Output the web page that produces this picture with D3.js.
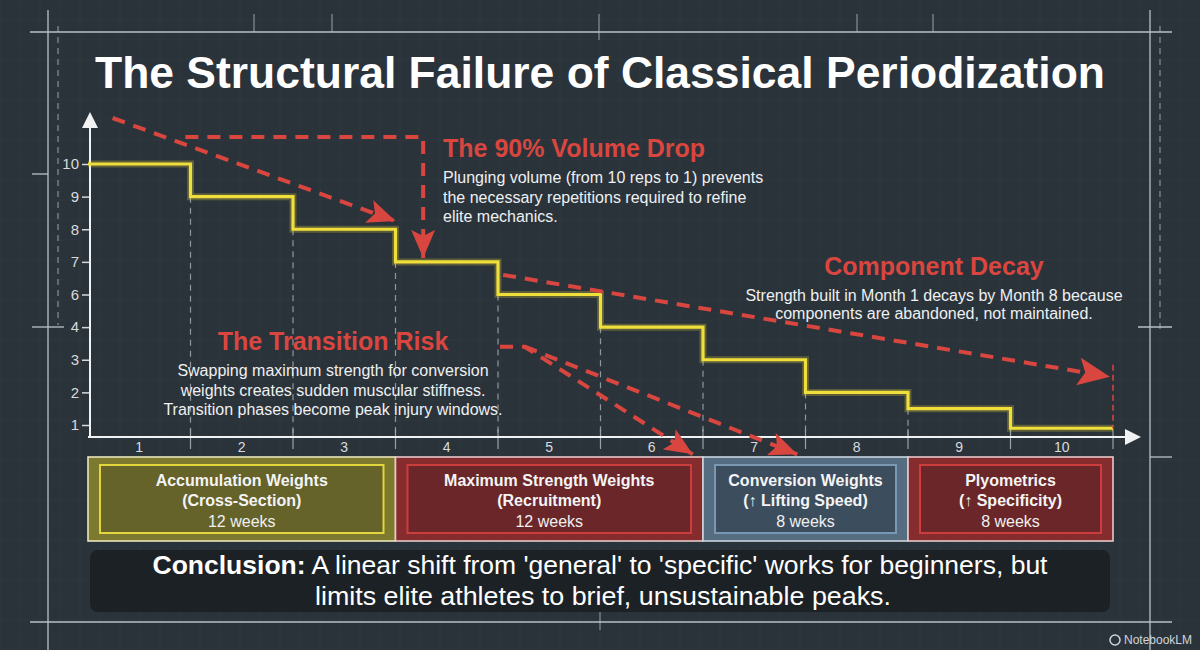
<!DOCTYPE html>
<html><head><meta charset="utf-8">
<script src="https://cdn.jsdelivr.net/npm/d3@7"></script>
<style>
html,body{margin:0;padding:0;background:#2b333a;}
svg{display:block;font-family:"Liberation Sans",Arial,Helvetica,sans-serif;}
</style>
</head><body><div id="chart"></div>
<script>
// ---------- data ----------
const months = [1,2,3,4,5,6,7,8,9,10];
const volume = [10,9,8,7,6,4,3,2,1.5,0.9];
const yTickLabels = [10,9,8,7,6,4,3,2,1];
const phaseNames = ["Accumulation Weights","Maximum Strength Weights","Conversion Weights","Plyometrics"];
const phaseSubs = ["(Cross-Section)","(Recruitment)","(\u2191 Lifting Speed)","(\u2191 Specificity)"];
const phaseWeeks = [12,12,8,8];
const phaseStart = [1,4,7,9];
const phaseEnd = [3,6,8,10];
const phaseBand = ["#7d7a2f","#862c2e","#566c80","#862c2e"];
const phaseFill = ["#65622a","#6a2629","#3c4d5e","#6a2629"];
const phaseOuter = ["#e9e6b8","#e6c9c9","#c9d5df","#e6c9c9"];
const phaseInner = ["#e3d53c","#cc3d3d","#7a98b3","#cc3d3d"];

const W = 1200, H = 650;
const bg = "#2b333a", red = "#d9463f", yellow = "#f0de3a";

const svg = d3.select("#chart").append("svg").attr("width", W).attr("height", H);
svg.append("rect").attr("width", W).attr("height", H).attr("fill", bg);

// faint blueprint texture grid
const gridG = svg.append("g").attr("stroke", "#ffffff").attr("stroke-opacity", 0.022);
d3.range(0, W, 20).forEach(v => gridG.append("line").attr("x1", v).attr("x2", v).attr("y1", 0).attr("y2", H));
d3.range(0, H, 20).forEach(v => gridG.append("line").attr("y1", v).attr("y2", v).attr("x1", 0).attr("x2", W));

// ---------- frame ----------
const frame = svg.append("g").attr("stroke", "#b9c1c7").attr("stroke-width", 1.3).attr("fill", "none");
frame.append("line").attr("x1", 30).attr("x2", 1172).attr("y1", 32).attr("y2", 32);
frame.append("line").attr("x1", 30).attr("x2", 1172).attr("y1", 622).attr("y2", 622);
frame.append("line").attr("x1", 48).attr("x2", 48).attr("y1", 10).attr("y2", 650);
frame.append("line").attr("x1", 1150).attr("x2", 1150).attr("y1", 10).attr("y2", 650);
frame.append("line").attr("x1", 58).attr("x2", 58).attr("y1", 26).attr("y2", 325).attr("stroke-dasharray", "6,5").attr("stroke-opacity", 0.6);
frame.append("line").attr("x1", 1160).attr("x2", 1160).attr("y1", 26).attr("y2", 330).attr("stroke-dasharray", "6,5").attr("stroke-opacity", 0.6);
[[32,48,174],[32,64,327]].forEach(d => frame.append("line").attr("x1", d[0]).attr("x2", d[1]).attr("y1", d[2]).attr("y2", d[2]));
[[1150,1172,457],[1138,1172,327]].forEach(d => frame.append("line").attr("x1", d[0]).attr("x2", d[1]).attr("y1", d[2]).attr("y2", d[2]));
[[254,14,32],[332,14,32],[599,14,40],[857,14,32],[933,14,32]].forEach(d =>
  frame.append("line").attr("x1", d[0]).attr("x2", d[0]).attr("y1", d[1]).attr("y2", d[2]).attr("stroke-opacity", 0.6));
frame.append("line").attr("x1", 600).attr("x2", 600).attr("y1", 612).attr("y2", 630).attr("stroke-opacity", 0.6);

// ---------- title ----------
svg.append("text").attr("x", 600).attr("y", 88).attr("text-anchor", "middle")
  .attr("font-size", 45).attr("font-weight", "bold").attr("fill", "#ffffff")
  .attr("textLength", 1010).attr("lengthAdjust", "spacingAndGlyphs")
  .text("The Structural Failure of Classical Periodization");

// ---------- scales ----------
const x = d3.scaleBand().domain(months).range([88, 1113]).padding(0);
const xl = d3.scaleLinear().domain([1, 11]).range([88, 1113]);
const y = d3.scaleLinear().domain(yTickLabels)
  .range(yTickLabels.map((d, i) => 164 + i * (425 - 164) / (yTickLabels.length - 1)));
const axisY = 437, axisX = 90;

// ---------- markers ----------
const defs = svg.append("defs");
function marker(id, color, len, wid) {
  defs.append("marker").attr("id", id).attr("markerUnits", "userSpaceOnUse")
    .attr("markerWidth", len).attr("markerHeight", wid).attr("refX", len).attr("refY", wid / 2)
    .attr("orient", "auto").append("path")
    .attr("d", `M0,0 L${len},${wid/2} L0,${wid} L${len*0.22},${wid/2} Z`).attr("fill", color);
}
marker("arrRed", red, 28, 24);
marker("arrRedBig", red, 32, 28);

// ---------- dashed month guides ----------
const guides = svg.append("g");
months.slice(1).forEach((m, i) => {
  guides.append("line").attr("x1", xl(m)).attr("x2", xl(m))
    .attr("y1", y(volume[i + 1])).attr("y2", axisY)
    .attr("stroke", "#8f979e").attr("stroke-width", 1.2).attr("stroke-dasharray", "6,5");
});

// ---------- axes ----------
const yAxis = svg.append("g").attr("transform", `translate(${axisX},0)`)
  .call(d3.axisLeft(y).tickValues(yTickLabels).tickSize(8).tickPadding(3).tickFormat(d3.format("d")));
yAxis.select(".domain").remove();
yAxis.selectAll("line").attr("stroke", "#d5d9dc").attr("stroke-width", 1.5);
yAxis.selectAll("text").attr("fill", "#d8dbde").attr("font-size", 15).attr("font-family", "Liberation Sans, Arial, sans-serif");

const xAxis = svg.append("g").attr("transform", `translate(0,${axisY})`)
  .call(d3.axisBottom(x).tickSize(0).tickPadding(5));
xAxis.select(".domain").remove();
xAxis.selectAll("text").attr("fill", "#d8dbde").attr("font-size", 14).attr("font-family", "Liberation Sans, Arial, sans-serif");
// boundary ticks
months.slice(1).concat([11]).forEach(m => {
  svg.append("line").attr("x1", xl(m)).attr("x2", xl(m)).attr("y1", axisY - 8).attr("y2", axisY + 12)
    .attr("stroke", "#9aa2a8").attr("stroke-width", 1.2);
});

// axis lines with arrows
svg.append("line").attr("x1", axisX).attr("x2", axisX).attr("y1", axisY).attr("y2", 126)
  .attr("stroke", "#f0f2f3").attr("stroke-width", 2);
svg.append("path").attr("d", `M${axisX},112 L${axisX-8},128 L${axisX+8},128 Z`).attr("fill", "#f0f2f3");
svg.append("line").attr("x1", axisX - 2).attr("x2", 1126).attr("y1", axisY).attr("y2", axisY)
  .attr("stroke", "#f0f2f3").attr("stroke-width", 2);
svg.append("path").attr("d", `M1141,${axisY} L1125,${axisY-8} L1125,${axisY+8} Z`).attr("fill", "#f0f2f3");

// ---------- step line ----------
const stepPts = months.map((m, i) => [xl(m), y(volume[i])]).concat([[xl(11), y(volume[volume.length - 1])]]);
const stepLine = d3.line().curve(d3.curveStepAfter);
svg.append("path").attr("d", stepLine(stepPts)).attr("fill", "none")
  .attr("stroke", yellow).attr("stroke-opacity", 0.25).attr("stroke-width", 7);
svg.append("path").attr("d", stepLine(stepPts)).attr("fill", "none")
  .attr("stroke", yellow).attr("stroke-width", 3.2);

// ---------- annotation arrows (positioned through the scales) ----------
const dash = "13,9";
const ann = svg.append("g").attr("fill", "none").attr("stroke", red).attr("stroke-width", 4).attr("stroke-dasharray", dash);
const P = (m, v) => [xl(m), y(v)];
const lineGen = d3.line();
// 90% volume drop: diagonal
ann.append("path").attr("d", lineGen([P(1.24, 11.41), P(4.0, 8.25)])).attr("marker-end", "url(#arrRed)");
// 90% volume drop: elbow
ann.append("path").attr("d", lineGen([P(1.95, 10.83), P(4.27, 10.83), P(4.27, 7.12)])).attr("marker-end", "url(#arrRed)");
// component decay
ann.append("path").attr("d", lineGen([P(5.05, 6.6), P(10.97, 2.48)])).attr("marker-end", "url(#arrRedBig)");
svg.append("line").attr("x1", xl(11)).attr("x2", xl(11)).attr("y1", y(2.85)).attr("y2", y(0.9))
  .attr("stroke", red).attr("stroke-width", 1.5).attr("stroke-dasharray", "6,4");
// transition risk: split arrows
ann.append("path").attr("d", lineGen([P(5.02, 3.4), P(5.26, 3.4), P(6.9, 0.1)])).attr("marker-end", "url(#arrRed)");
ann.append("path").attr("d", lineGen([P(5.26, 3.4), P(7.92, 0.1)])).attr("marker-end", "url(#arrRed)");

// ---------- annotation texts ----------
function block(xp, yp, anchor, title, lines, spacing) {
  const g = svg.append("g");
  g.append("text").attr("x", xp).attr("y", yp).attr("text-anchor", anchor)
    .attr("font-size", 25).attr("font-weight", "bold").attr("fill", red).text(title);
  lines.forEach((t, i) => g.append("text").attr("x", xp).attr("y", yp + 26 + i * spacing)
    .attr("text-anchor", anchor).attr("font-size", 16).attr("fill", "#eef0f2").text(t));
}
block(443, 157, "start", "The 90% Volume Drop",
  ["Plunging volume (from 10 reps to 1) prevents", "the necessary repetitions required to refine", "elite mechanics."], 19.5);
block(934, 275, "middle", "Component Decay",
  ["Strength built in Month 1 decays by Month 8 because", "components are abandoned, not maintained."], 18);
block(333, 350, "middle", "The Transition Risk",
  ["Swapping maximum strength for conversion", "weights creates sudden muscular stiffness.", "Transition phases become peak injury windows."], 19.5);

// ---------- phase boxes ----------
const boxTop = 457, boxBot = 541;
phaseNames.forEach((name, i) => {
  const x0 = xl(phaseStart[i]), x1 = xl(phaseEnd[i] + 1);
  const g = svg.append("g");
  g.append("rect").attr("x", x0).attr("y", boxTop).attr("width", x1 - x0).attr("height", boxBot - boxTop)
    .attr("fill", phaseBand[i]).attr("stroke", phaseOuter[i]).attr("stroke-width", 1.6);
  g.append("rect").attr("x", x0 + 12).attr("y", boxTop + 8).attr("width", x1 - x0 - 24).attr("height", boxBot - boxTop - 16)
    .attr("fill", phaseFill[i]).attr("stroke", phaseInner[i]).attr("stroke-width", 2);
  const cx = (x0 + x1) / 2;
  g.append("text").attr("x", cx).attr("y", 486).attr("text-anchor", "middle").attr("font-size", 16)
    .attr("font-weight", "bold").attr("fill", "#f4f4f4").text(name);
  g.append("text").attr("x", cx).attr("y", 506).attr("text-anchor", "middle").attr("font-size", 16)
    .attr("font-weight", "bold").attr("fill", "#f4f4f4").text(phaseSubs[i]);
  g.append("text").attr("x", cx).attr("y", 527).attr("text-anchor", "middle").attr("font-size", 16)
    .attr("fill", "#f0f0f0").text(phaseWeeks[i] + " weeks");
});

// ---------- conclusion ----------
svg.append("rect").attr("x", 90).attr("y", 550).attr("width", 1020).attr("height", 62).attr("rx", 8)
  .attr("fill", "#1c2126");
const c1 = svg.append("text").attr("x", 600).attr("y", 574).attr("text-anchor", "middle")
  .attr("font-size", 26).attr("fill", "#ffffff")
  .attr("textLength", 895).attr("lengthAdjust", "spacingAndGlyphs");
c1.append("tspan").attr("font-weight", "bold").text("Conclusion:");
c1.append("tspan").text(" A linear shift from 'general' to 'specific' works for beginners, but");
svg.append("text").attr("x", 603).attr("y", 605).attr("text-anchor", "middle")
  .attr("font-size", 26).attr("fill", "#ffffff")
  .attr("textLength", 576).attr("lengthAdjust", "spacingAndGlyphs")
  .text("limits elite athletes to brief, unsustainable peaks.");

// ---------- watermark ----------
svg.append("circle").attr("cx", 1115).attr("cy", 640).attr("r", 5).attr("fill", "none").attr("stroke", "#d0d4d8").attr("stroke-width", 1.5);
svg.append("text").attr("x", 1124).attr("y", 644).attr("font-size", 12).attr("fill", "#d0d4d8").text("NotebookLM");
</script>
</body></html>
